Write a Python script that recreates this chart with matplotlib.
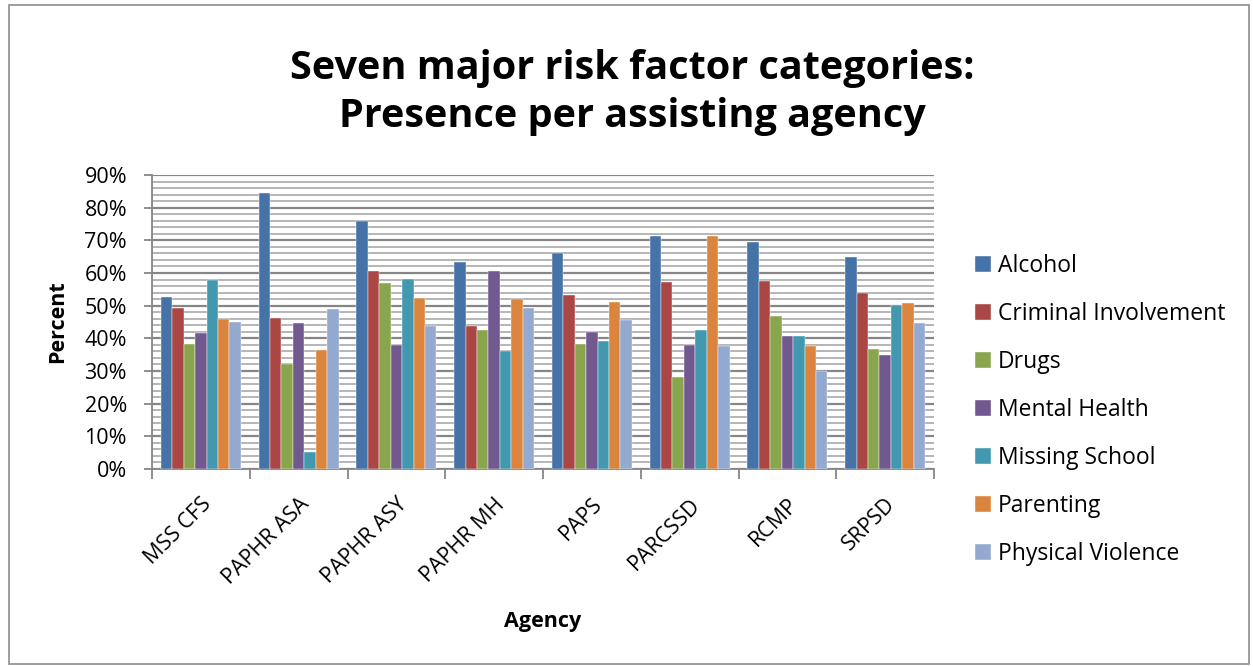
import numpy as np
import matplotlib
matplotlib.use("Agg")
import matplotlib.pyplot as plt
from matplotlib.ticker import MultipleLocator, PercentFormatter
from matplotlib.patches import Rectangle

agencies = ["MSS CFS", "PAPHR ASA", "PAPHR ASY", "PAPHR MH", "PAPS", "PARCSSD", "RCMP", "SRPSD"]
factors = ["Alcohol", "Criminal Involvement", "Drugs", "Mental Health",
           "Missing School", "Parenting", "Physical Violence"]

alcohol = [52.6, 84.4, 76.0, 63.3, 66.0, 71.3, 69.6, 64.8]
criminal = [49.3, 46.3, 60.5, 43.7, 53.4, 57.1, 57.4, 53.9]
drugs = [38.4, 32.1, 57.0, 42.7, 38.4, 28.3, 46.8, 36.8]
mental_health = [41.7, 44.8, 37.9, 60.5, 42.0, 37.9, 40.7, 34.8]
missing_school = [57.9, 5.3, 58.3, 36.1, 39.1, 42.6, 40.7, 50.1]
parenting = [46.0, 36.4, 52.2, 52.1, 51.0, 71.3, 37.7, 50.8]
physical_violence = [44.9, 49.1, 43.9, 49.3, 45.6, 37.8, 30.0, 44.8]

series = [alcohol, criminal, drugs, mental_health, missing_school, parenting, physical_violence]
colors = ["#4572A7", "#AA4643", "#89A54E", "#71588F", "#4198AF", "#DB843D", "#93A9CF"]

plt.rcParams["font.family"] = ["Open Sans", "DejaVu Sans"]

fig = plt.figure(figsize=(12.53, 6.66), dpi=100)
fig.patches.append(Rectangle((0.007, 0.003), 0.99, 0.99, transform=fig.transFigure,
                             fill=False, edgecolor="#8c8c8c", linewidth=1.2))

ax = fig.add_axes([152 / 1253, 1 - 469 / 666, (934 - 152) / 1253, (469 - 175) / 666])

x = np.arange(len(agencies))
bw = 0.117
for i, (vals, name, c) in enumerate(zip(series, factors, colors)):
    offs = (i - 3) * bw
    ax.bar(x + offs, vals, width=bw, color=c, label=name, zorder=3,
           edgecolor="white", linewidth=0.3)

ax.set_xlim(-0.5, len(agencies) - 0.5)
ax.set_ylim(0, 90)
ax.yaxis.set_major_locator(MultipleLocator(10))
ax.yaxis.set_minor_locator(MultipleLocator(2))
ax.yaxis.set_major_formatter(PercentFormatter(decimals=0))
ax.grid(axis="y", which="major", color="#868686", linewidth=1.6, zorder=0)
ax.grid(axis="y", which="minor", color="#b5b5b5", linewidth=1.4, zorder=0)

ax.set_xticks(x)
ax.set_xticklabels(agencies, rotation=45, ha="right", rotation_mode="anchor", fontsize=15.5)
ax.set_xticks(np.arange(-0.5, len(agencies)), minor=True)
ax.tick_params(axis="x", which="major", length=0, pad=18)
ax.tick_params(axis="x", which="minor", length=7, color="#868686", width=1.3)
ax.tick_params(axis="y", which="major", length=6, color="#868686", width=1.3,
               labelsize=15.5, pad=12)
ax.tick_params(axis="y", which="minor", length=0)

for s in ["top", "right"]:
    ax.spines[s].set_visible(False)
for s in ["left", "bottom"]:
    ax.spines[s].set_color("#868686")
    ax.spines[s].set_linewidth(1.3)

fig.text(58 / 1253, 1 - 322 / 666, "Percent", fontsize=15.5, fontweight="bold",
         rotation=90, ha="center", va="center")
fig.text(543 / 1253, 1 - 622 / 666, "Agency", fontsize=15.5, fontweight="bold",
         ha="center", va="center")

fig.text(632 / 1253, 1 - 69 / 666, "Seven major risk factor categories:",
         fontsize=28.5, fontweight="bold", ha="center", va="center")
fig.text(632 / 1253, 1 - 117 / 666, "Presence per assisting agency",
         fontsize=28.5, fontweight="bold", ha="center", va="center")

ax.legend(loc="upper left", bbox_to_anchor=(975 / 1253, 1 - 254 / 666),
          bbox_transform=fig.transFigure, frameon=False, fontsize=16.5,
          handlelength=0.7, handleheight=0.7, handletextpad=0.3,
          labelspacing=1.05, borderaxespad=0, borderpad=0)

fig.savefig("out.png", dpi=100)
